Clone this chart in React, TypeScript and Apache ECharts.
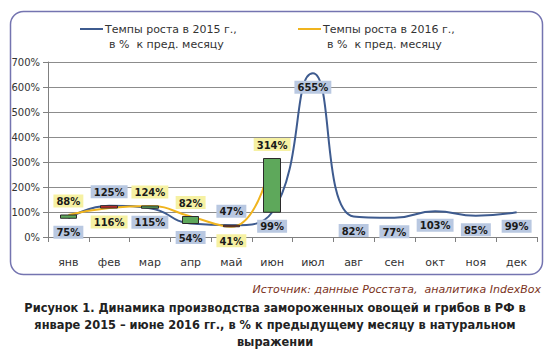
import React, { useEffect, useRef } from "react";
import * as echarts from "echarts";

const months = ["янв", "фев", "мар", "апр", "май", "июн", "июл", "авг", "сен", "окт", "ноя", "дек"];
const growth2015 = [75, 125, 115, 54, 47, 99, 655, 82, 77, 103, 85, 99];
const growth2016 = [88, 116, 124, 82, 41, 314];
const name2015 = "Темпы роста в 2015 г., в % к пред. месяцу";
const name2016 = "Темпы роста в 2016 г., в % к пред. месяцу";

const FONT = "DejaVu Sans, Verdana, sans-serif";

export default function App() {
  const ref = useRef<HTMLDivElement>(null);
  useEffect(() => {
    if (!ref.current) return;
    const chart = echarts.init(ref.current, null, { renderer: "svg" });

    const labelBase = {
      show: true,
      formatter: (p: any) => `${p.value}%`,
      fontFamily: FONT,
      fontWeight: "bold" as const,
      fontSize: 10,
      color: "#1a1a1a",
      padding: [2, 3, 1, 3],
      distance: 7,
    };

    const data2015 = growth2015.map((v, i) => {
      const other = growth2016[i];
      const top = other !== undefined && v > other;
      return { value: v, label: { position: top ? "top" : "bottom" } };
    });
    const data2016 = growth2016.map((v, i) => {
      const other = growth2015[i];
      const top = v >= other;
      return { value: v, label: { position: top ? "top" : "bottom" } };
    });
    const candles = growth2016.map((v, i) => {
      const a = growth2015[i];
      return [a, v, Math.min(a, v), Math.max(a, v)];
    });

    chart.setOption({
      animation: false,
      backgroundColor: "#ffffff",
      grid: { left: 48, right: 13, top: 62, bottom: 114, containLabel: false },
      xAxis: {
        type: "category",
        data: months,
        boundaryGap: true,
        axisLine: { lineStyle: { color: "#808080", width: 1 } },
        axisTick: { show: true, alignWithLabel: false, length: 5, inside: false, lineStyle: { color: "#808080" } },
        axisLabel: { fontFamily: FONT, fontSize: 11, color: "#333333", margin: 20 },
      },
      yAxis: {
        type: "value",
        min: 0,
        max: 700,
        interval: 100,
        axisLine: { show: true, lineStyle: { color: "#808080", width: 1 } },
        axisTick: { show: true, length: 5, lineStyle: { color: "#808080" } },
        axisLabel: { fontFamily: FONT, fontSize: 10, color: "#333333", formatter: "{value}%", margin: 8 },
        splitLine: { lineStyle: { color: "#8c8c8c", width: 1 } },
      },
      series: [
        {
          type: "line",
          name: name2015,
          data: data2015,
          smooth: 0.5,
          showSymbol: true,
          symbol: "circle",
          symbolSize: 1,
          lineStyle: { color: "#3e5b8f", width: 2 },
          itemStyle: { color: "rgba(0,0,0,0)" },
          z: 2,
          label: { ...labelBase, backgroundColor: "#b9c8e1" },
        },
        {
          type: "line",
          name: name2016,
          data: data2016,
          smooth: 0.5,
          showSymbol: true,
          symbol: "circle",
          symbolSize: 1,
          lineStyle: { color: "#f0b41e", width: 2 },
          itemStyle: { color: "rgba(0,0,0,0)" },
          z: 2,
          label: { ...labelBase, backgroundColor: "#f6f1a3" },
        },
        {
          type: "candlestick",
          name: "bars",
          data: candles,
          barWidth: 17,
          z: 3,
          itemStyle: {
            color: "#5ea85b",
            color0: "#e2312b",
            borderColor: "#2b2b2b",
            borderColor0: "#2b2b2b",
            borderWidth: 1,
          },
        },
      ],
      graphic: [
        {
          type: "rect",
          shape: { x: 10.5, y: 11.5, width: 532, height: 263, r: 13 },
          style: { fill: "none", stroke: "#7474b0", lineWidth: 1.5 },
          silent: true,
          z: -1,
        },
        { type: "line", shape: { x1: 80, y1: 29, x2: 103, y2: 29 }, style: { stroke: "#3e5b8f", lineWidth: 2 } },
        {
          type: "text",
          x: 105,
          y: 29,
          style: { text: "Темпы роста в 2015 г.,", font: `11px ${FONT}`, fill: "#333333", verticalAlign: "middle" },
        },
        {
          type: "text",
          x: 109,
          y: 44,
          style: { text: "в %  к пред. месяцу", font: `11px ${FONT}`, fill: "#333333", verticalAlign: "middle" },
        },
        { type: "line", shape: { x1: 298, y1: 29, x2: 321, y2: 29 }, style: { stroke: "#f0b41e", lineWidth: 2 } },
        {
          type: "text",
          x: 323,
          y: 29,
          style: { text: "Темпы роста в 2016 г.,", font: `11px ${FONT}`, fill: "#333333", verticalAlign: "middle" },
        },
        {
          type: "text",
          x: 327,
          y: 44,
          style: { text: "в %  к пред. месяцу", font: `11px ${FONT}`, fill: "#333333", verticalAlign: "middle" },
        },
        {
          type: "text",
          x: 541,
          y: 289,
          style: {
            text: "Источник: данные Росстата,  аналитика IndexBox",
            font: `italic 11px ${FONT}`,
            fill: "#7b3322",
            align: "right",
            verticalAlign: "middle",
          },
        },
        {
          type: "text",
          x: 275,
          y: 325,
          style: {
            text:
              "Рисунок 1. Динамика производства замороженных овощей и грибов в РФ в\nянваре 2015 – июне 2016 гг., в % к предыдущему месяцу в натуральном\nвыражении",
            font: `bold 11.4px ${FONT}`,
            fill: "#222222",
            align: "center",
            verticalAlign: "middle",
            lineHeight: 17,
          },
        },
      ],
    });
    return () => chart.dispose();
  }, []);
  return (
    <div
      ref={ref}
      style={{ position: "fixed", left: 0, top: 0, width: 550, height: 351, background: "#fff" }}
    />
  );
}
